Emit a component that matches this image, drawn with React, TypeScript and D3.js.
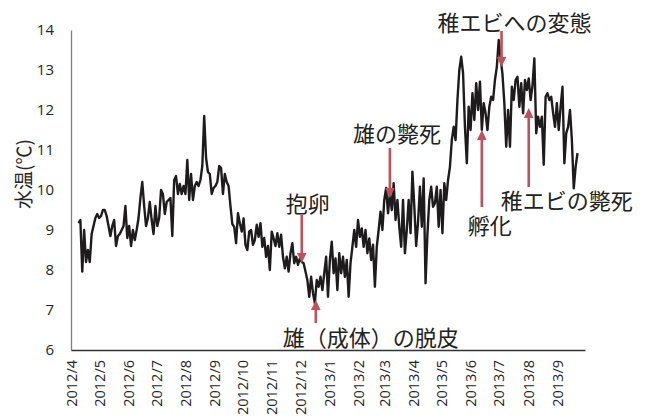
import { useEffect, useRef } from "react";
import * as d3 from "d3";

// daily logger readings, sampled every 2 days from the first reading
const startDate = "2012-04-09";
const stepDays = 2;
const temps = [
  9.17, 9.25, 7.96, 9.0, 8.2, 8.5, 8.2, 8.9, 9.1, 9.3,
  9.4, 9.3, 9.35, 9.5, 9.5, 9.35, 9.1, 8.85, 9.1, 9.25,
  8.6, 8.85, 8.9, 9.0, 9.1, 9.6, 8.8, 9.1, 8.6, 9.0,
  8.75, 9.0, 9.3, 9.8, 10.2, 9.6, 9.1, 9.3, 9.7, 9.25,
  8.9, 9.6, 9.1, 9.3, 10.0, 9.9, 9.4, 9.7, 9.75, 9.8,
  8.85, 10.25, 10.35, 9.9, 10.15, 9.9, 10.1, 9.9, 10.75, 9.75,
  10.4, 9.75, 10.1, 10.2, 10.1, 10.25, 10.6, 11.85, 10.8, 10.45,
  10.4, 9.9, 10.05, 10.1, 10.2, 10.6, 10.55, 9.9, 10.4, 10.2,
  10.1, 9.6, 9.15, 9.08, 8.67, 9.42, 9.17, 8.96, 9.29, 8.63,
  8.5, 8.96, 9.0, 8.63, 8.75, 9.13, 8.83, 9.17, 8.58, 8.8,
  8.33, 8.6, 8.0, 8.96, 8.79, 8.6, 8.92, 8.58, 8.88, 8.33,
  8.04, 8.33, 7.96, 8.42, 8.67, 8.17, 8.33, 8.13, 8.29, 8.2,
  8.17, 7.96, 7.75, 7.33, 7.83, 7.42, 7.17, 7.75, 7.58, 7.83,
  7.5, 7.92, 8.33, 7.33, 8.25, 8.71, 7.92, 8.29, 7.5, 8.42,
  7.92, 8.33, 7.83, 8.25, 7.33, 8.17, 8.58, 9.0, 8.58, 9.25,
  8.83, 9.04, 8.58, 9.0, 8.42, 8.79, 8.25, 8.63, 7.58, 8.58,
  9.0, 9.46, 9.0, 9.75, 10.05, 9.42, 9.92, 9.5, 10.17, 9.25,
  9.75, 9.08, 8.58, 9.75, 8.42, 9.0, 9.75, 8.92, 10.46, 9.6,
  8.6, 9.2, 10.08, 9.08, 10.29, 7.67, 8.9, 9.75, 10.08, 9.58,
  9.67, 10.08, 9.08, 10.0, 8.92, 10.17, 9.75, 10.25, 10.58, 11.25,
  11.58, 11.25, 12.25, 13.0, 13.33, 12.92, 11.58, 10.67, 12.08, 11.5,
  12.42, 11.75, 12.67, 12.0, 12.71, 11.5, 12.17, 11.92, 11.5, 12.08,
  12.33, 12.25, 12.75, 13.08, 13.75, 13.3, 12.9, 12.17, 11.08, 12.0,
  11.08, 12.58, 12.25, 12.75, 12.83, 12.08, 12.67, 11.92, 12.75, 12.5,
  12.79, 12.25, 12.6, 13.29, 11.42, 11.83, 11.58, 11.83, 10.63, 12.33,
  12.42, 12.25, 12.33, 11.92, 11.58, 12.17, 11.5, 12.08, 12.58, 10.67,
  11.42, 11.58, 12.0, 11.25, 10.04, 10.58, 10.92,
];

const axisStart = "2012-04-01";
const axisEnd = "2013-10-01";
const yTicks = [6, 7, 8, 9, 10, 11, 12, 13, 14];

// events: arrow from "from" °C to "to" °C on the given day
const notes = [
  { text: "抱卵", date: "2012-12-03", from: 9.375, to: 8.175 },
  { text: "雄（成体）の脱皮", date: "2012-12-18", from: 6.675, to: 7.25 },
  { text: "雄の斃死", date: "2013-03-07", from: 11.05, to: 9.8 },
  { text: "稚エビへの変態", date: "2013-07-04", from: 13.975, to: 13.075 },
  { text: "孵化", date: "2013-06-13", from: 9.575, to: 11.5 },
  { text: "稚エビの斃死", date: "2013-08-02", from: 10.075, to: 12.05 },
];
// label placement relative to arrow tail (px)
const noteOffsets = [
  [6, -3], [55, 23], [7, -6], [13, 0], [8, 27], [38, 22],
];

const parse = d3.timeParse("%Y-%m-%d");

export default function App() {
  const svgRef = useRef<SVGSVGElement | null>(null);

  useEffect(() => {
    if (!svgRef.current) return;
    const width = 653;
    const height = 416;
    const left = 71, right = 585, top = 30, bottom = 350;

    const svg = d3.select(svgRef.current);
    svg.selectAll("*").remove();
    svg.attr("width", width).attr("height", height);

    const start = parse(startDate)!;
    const rows = temps.map((v, i) => ({ date: d3.timeDay.offset(start, i * stepDays), value: v }));

    const x = d3.scaleTime()
      .domain([parse(axisStart)!, parse(axisEnd)!])
      .range([left, right]);
    const y = d3.scaleLinear().domain([6, 14]).range([bottom, top]);

    const font = "'Open Sans', 'Noto Sans', sans-serif";
    const jp = "'Noto Sans CJK JP', 'Noto Sans', sans-serif";

    // y axis
    const ya = svg.append("g")
      .attr("transform", `translate(${left},0)`)
      .call(d3.axisLeft(y).tickValues(yTicks).tickSize(0).tickPadding(17).tickFormat(d3.format("d")));
    ya.select(".domain").attr("stroke", "#808080").attr("stroke-width", 1.3);
    ya.selectAll("text").attr("font-size", 15).attr("font-family", font).attr("fill", "#262626");

    // x axis
    const xa = svg.append("g")
      .attr("transform", `translate(0,${bottom})`)
      .call(d3.axisBottom(x)
        .ticks(d3.timeMonth.every(1))
        .tickSize(0)
        .tickSizeOuter(0)
        .tickFormat(d => d3.timeFormat("%Y/%-m")(d as Date)));
    xa.select(".domain").attr("stroke", "#333").attr("stroke-width", 1.3);
    xa.selectAll("text")
      .attr("font-size", 14.5)
      .attr("font-family", font)
      .attr("fill", "#262626")
      .attr("text-anchor", "end")
      .attr("transform", "rotate(-90)")
      .attr("x", -10)
      .attr("y", 0)
      .attr("dy", "0.36em");
    xa.selectAll("text").filter(d => (d as Date) >= parse(axisEnd)!).remove();

    svg.append("text")
      .attr("transform", `translate(24,174) rotate(-90)`)
      .attr("text-anchor", "middle")
      .attr("dy", "0.35em")
      .attr("font-size", 19)
      .attr("font-family", jp)
      .attr("fill", "#262626")
      .text("水温(℃)");

    const line = d3.line<{ date: Date; value: number }>()
      .x(d => x(d.date))
      .y(d => y(d.value));

    svg.append("path")
      .datum(rows)
      .attr("d", line)
      .attr("fill", "none")
      .attr("stroke", "#1e1b1c")
      .attr("stroke-width", 2.4)
      .attr("stroke-linejoin", "round");

    // annotations
    const red = "#c0505a";
    notes.forEach((n, i) => {
      const ax = x(parse(n.date)!);
      const y0 = y(n.from);
      const y1 = y(n.to);
      const dir = y1 > y0 ? 1 : -1;
      const head = 10;
      svg.append("line")
        .attr("x1", ax).attr("x2", ax)
        .attr("y1", y0).attr("y2", y1 - dir * head)
        .attr("stroke", red)
        .attr("stroke-width", 2.6);
      svg.append("path")
        .attr("d", `M${ax - 4.8},${y1 - dir * head} L${ax + 4.8},${y1 - dir * head} L${ax},${y1} Z`)
        .attr("fill", red);
      const [dx, dy] = noteOffsets[i];
      svg.append("text")
        .attr("x", ax + dx)
        .attr("y", y0 + dy)
        .attr("text-anchor", "middle")
        .attr("font-size", 22)
        .attr("font-family", jp)
        .attr("fill", "#222")
        .text(n.text);
    });
  }, []);

  return <svg ref={svgRef} style={{ position: "absolute", left: 0, top: 0 }} />;
}
